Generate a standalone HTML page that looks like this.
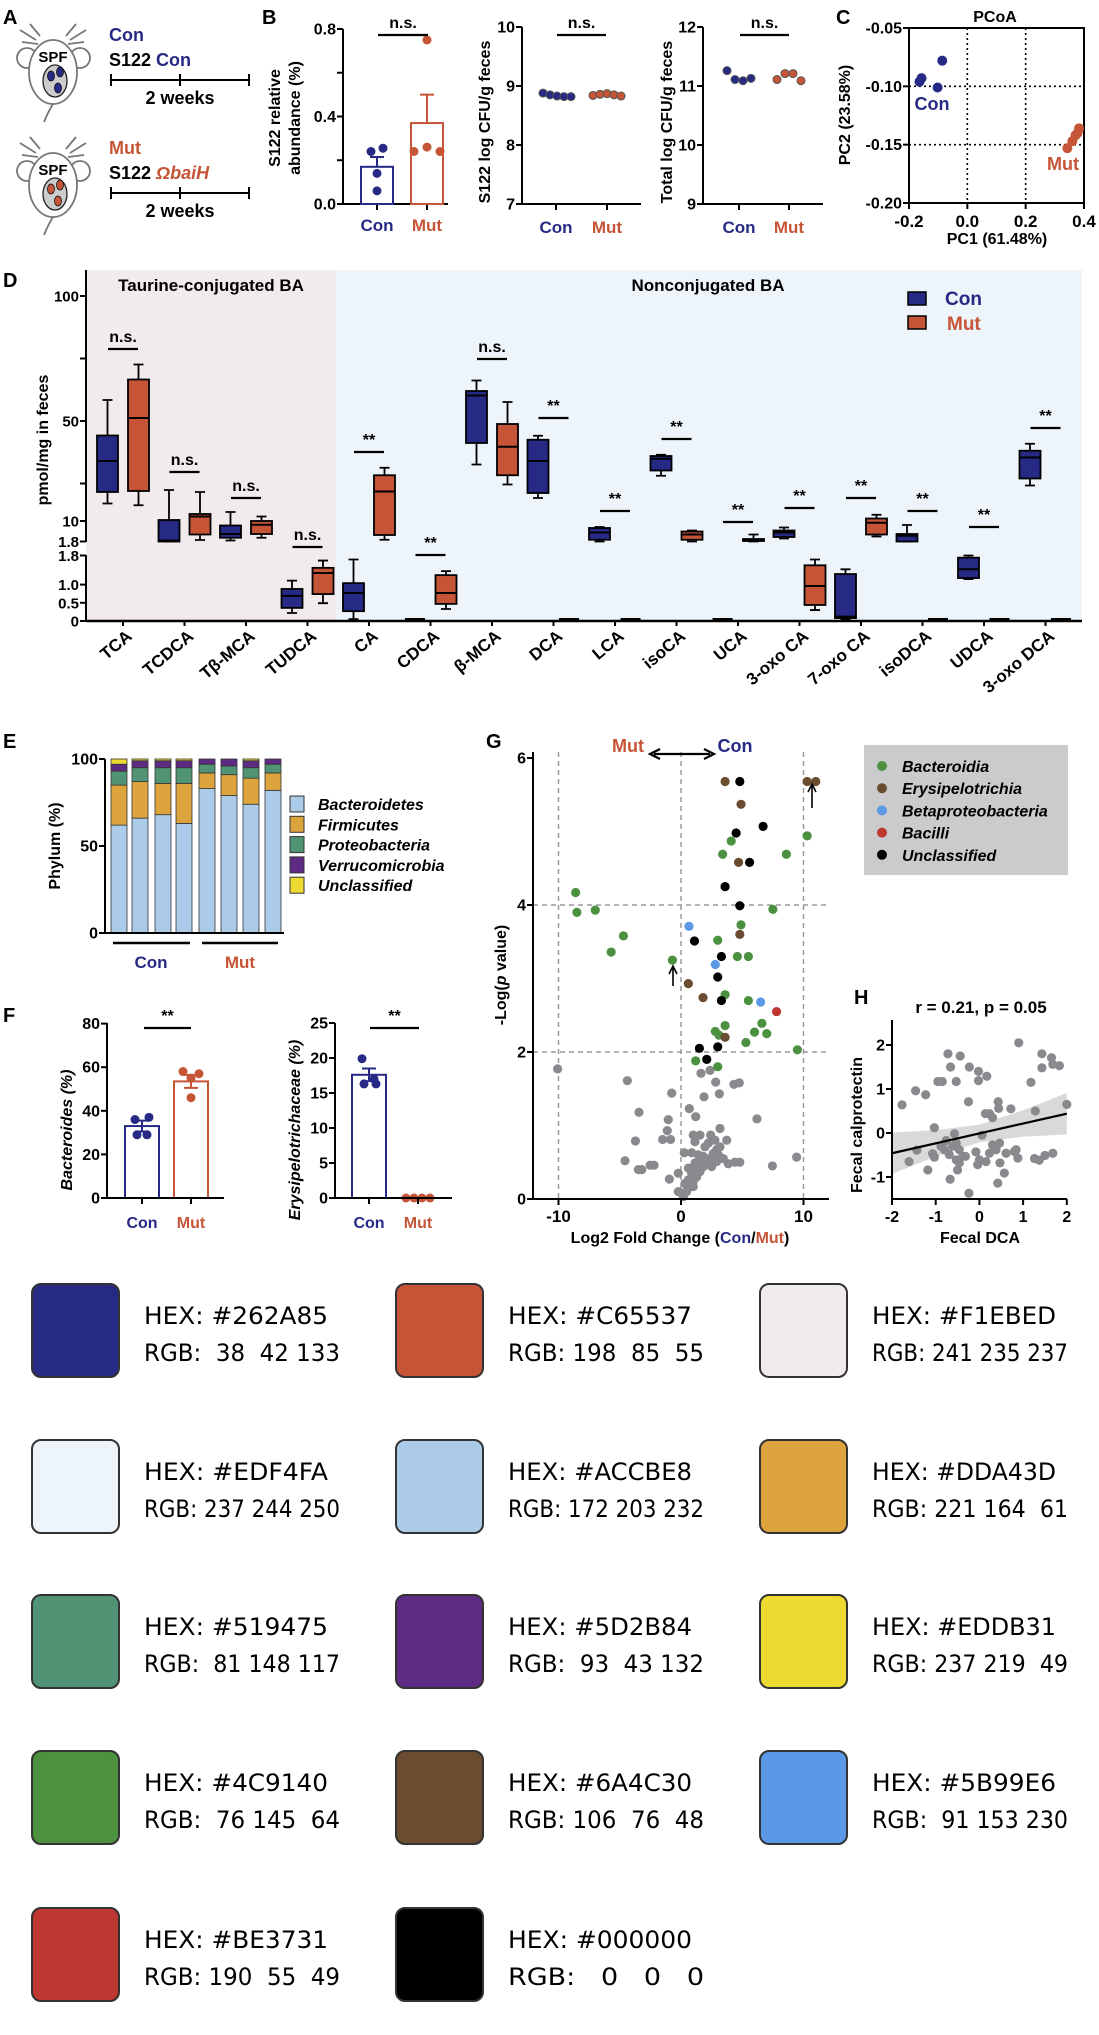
<!DOCTYPE html>
<html><head><meta charset="utf-8">
<style>
html,body{margin:0;padding:0;background:#fff;}
svg{display:block;font-family:"Liberation Sans",sans-serif;}
.b{font-weight:bold;}
.sw{font-family:"DejaVu Sans","Liberation Sans",sans-serif;white-space:pre;}
</style></head>
<body>
<svg id="fig" xmlns="http://www.w3.org/2000/svg" width="1099" height="2035" viewBox="0 0 1099 2035">
<rect x="0" y="0" width="1099" height="2035" fill="#fff"/>
<!-- Panel labels -->
<g class="b" font-size="20">
<text x="3" y="24">A</text>
<text x="262" y="24">B</text>
<text x="836" y="24">C</text>
<text x="3" y="287">D</text>
<text x="3" y="748">E</text>
<text x="3" y="1022">F</text>
<text x="486" y="748">G</text>
<text x="854" y="1004">H</text>
</g>
<!-- Panel A -->
<g id="panelA">
<g id="mouse1" fill="none" stroke="#777" stroke-width="1.8">
 <path d="M36 40 L20 30 M38 44 L22 42 M70 40 L86 30 M68 44 L84 42 M40 36 L30 24 M66 36 L76 24"/>
 <circle cx="27" cy="58" r="10" fill="#fff"/><circle cx="80" cy="58" r="10" fill="#fff"/>
 <ellipse cx="53" cy="72" rx="24" ry="32" fill="#fff"/>
 <path d="M53 104 Q48 112 44 122"/>
 <ellipse cx="55" cy="81" rx="12" ry="16" fill="#ccc" stroke="#222" stroke-width="1.3"/>
 <ellipse cx="51" cy="76" rx="3.5" ry="5" fill="#262A85" stroke="#111" stroke-width="0.8"/>
 <ellipse cx="60" cy="72" rx="3.5" ry="5" fill="#262A85" stroke="#111" stroke-width="0.8"/>
 <ellipse cx="58" cy="88" rx="3.5" ry="5" fill="#262A85" stroke="#111" stroke-width="0.8"/>
</g>
<text x="53" y="62" text-anchor="middle" class="b" font-size="15">SPF</text>
<g id="mouse2" fill="none" stroke="#777" stroke-width="1.8" transform="translate(0,113)">
 <path d="M36 40 L20 30 M38 44 L22 42 M70 40 L86 30 M68 44 L84 42 M40 36 L30 24 M66 36 L76 24"/>
 <circle cx="27" cy="58" r="10" fill="#fff"/><circle cx="80" cy="58" r="10" fill="#fff"/>
 <ellipse cx="53" cy="72" rx="24" ry="32" fill="#fff"/>
 <path d="M53 104 Q48 112 44 122"/>
 <ellipse cx="55" cy="81" rx="12" ry="16" fill="#ccc" stroke="#222" stroke-width="1.3"/>
 <ellipse cx="51" cy="76" rx="3.5" ry="5" fill="#C65537" stroke="#111" stroke-width="0.8"/>
 <ellipse cx="60" cy="72" rx="3.5" ry="5" fill="#C65537" stroke="#111" stroke-width="0.8"/>
 <ellipse cx="58" cy="88" rx="3.5" ry="5" fill="#C65537" stroke="#111" stroke-width="0.8"/>
</g>
<text x="53" y="175" text-anchor="middle" class="b" font-size="15">SPF</text>
<g class="b" font-size="18">
<text x="109" y="41" fill="#262A85">Con</text>
<text x="109" y="66">S122 <tspan fill="#262A85">Con</tspan></text>
<text x="180" y="104" text-anchor="middle">2 weeks</text>
<text x="109" y="154" fill="#C65537">Mut</text>
<text x="109" y="179">S122 <tspan fill="#C65537" font-style="italic">ΩbaiH</tspan></text>
<text x="180" y="217" text-anchor="middle">2 weeks</text>
</g>
<path d="M111 80 H249 M111 74 V86 M180 74 V86 M249 74 V86" stroke="#000" stroke-width="2"/>
<path d="M111 193 H249 M111 187 V199 M180 187 V199 M249 187 V199" stroke="#000" stroke-width="2"/>
</g>
<!-- static axis titles -->
<g class="b" font-size="16">
<text transform="translate(280,118) rotate(-90)" text-anchor="middle">S122 relative</text>
<text transform="translate(300,118) rotate(-90)" text-anchor="middle">abundance (%)</text>
<text transform="translate(490,122) rotate(-90)" text-anchor="middle">S122 log CFU/g feces</text>
<text transform="translate(672,122) rotate(-90)" text-anchor="middle">Total log CFU/g feces</text>
<text transform="translate(850,115) rotate(-90)" text-anchor="middle">PC2 (23.58%)</text>
<text x="997" y="244" text-anchor="middle">PC1 (61.48%)</text>
<text x="995" y="22" text-anchor="middle">PCoA</text>
<text transform="translate(48,440) rotate(-90)" text-anchor="middle">pmol/mg in feces</text>
<text transform="translate(60,846) rotate(-90)" text-anchor="middle">Phylum (%)</text>
<text transform="translate(72,1130) rotate(-90)" text-anchor="middle" font-style="italic">Bacteroides (%)</text>
<text transform="translate(300,1130) rotate(-90)" text-anchor="middle" font-style="italic">Erysipelotrichaceae (%)</text>
<text transform="translate(506,975) rotate(-90)" text-anchor="middle">-Log(<tspan font-style="italic">p</tspan> value)</text>
<text x="680" y="1243" text-anchor="middle">Log2 Fold Change (<tspan fill="#262A85">Con</tspan>/<tspan fill="#C65537">Mut</tspan>)</text>
<text transform="translate(862,1125) rotate(-90)" text-anchor="middle">Fecal calprotectin</text>
<text x="980" y="1243" text-anchor="middle">Fecal DCA</text>
<text x="981" y="1013" text-anchor="middle" font-size="17">r = 0.21, p = 0.05</text>
</g>
<g id="layer"></g>
</svg>
<script>
// ---------- DATA ----------
// Panel B
const b1ConDots=[0.24,0.255,0.14,0.06];
const b1MutDots=[0.75,0.24,0.26,0.24];
const b1Mean=[0.17,0.37];
const b1Sem=[0.045,0.13];
const b2ConDots=[8.88,8.85,8.83,8.82,8.82];
const b2MutDots=[8.84,8.86,8.87,8.85,8.83];
const b3ConDots=[11.26,11.11,11.09,11.13];
const b3MutDots=[11.11,11.21,11.21,11.09];
// Panel C
const pcoaConX=[-0.157,-0.164,-0.086,-0.102];
const pcoaConY=[-0.093,-0.096,-0.078,-0.101];
const pcoaMutX=[0.343,0.36,0.371,0.383,0.378];
const pcoaMutY=[-0.153,-0.147,-0.142,-0.136,-0.140];
// Panel D: [min,q1,median,q3,max]; seg U=upper axis, L=lower axis, Z=zero
const baNames=["TCA","TCDCA","Tβ-MCA","TUDCA","CA","CDCA","β-MCA","DCA","LCA","isoCA","UCA","3-oxo CA","7-oxo CA","isoDCA","UDCA","3-oxo DCA"];
const conBox=[[17,21.6,34,44.2,58.4],[1.8,1.8,2.2,10.4,22.4],[2.2,3.3,4.8,8.2,13.6],[0.22,0.36,0.69,0.88,1.11],[0.05,0.27,0.77,1.04,1.69],[0,0,0,0,0],[32.6,41.2,60.2,62,66.2],[19.2,21.2,34,42.5,44.1],[1.8,2.5,5.4,7.2,7.6],[28.1,30.2,34.9,36,36.5],[0,0,0,0,0],[3,3.6,5.4,6.2,7.4],[0.05,0.08,0.12,1.29,1.42],[1.8,1.8,4.1,4.8,8.4],[1.15,1.18,1.42,1.74,1.8],[24.2,27,35.4,38.1,40.9]];
const conSeg=["U","U","U","L","L","Z","U","U","U","U","Z","U","L","U","L","U"];
const mutBox=[[16.3,22,51.2,66.6,72.6],[2.4,4.6,11.8,12.8,21.6],[3.3,4.8,8.5,10,11.8],[0.49,0.74,1.32,1.46,1.66],[2.5,4.4,21.8,28.3,31.3],[0.33,0.47,0.77,1.26,1.37],[24.6,28.3,39.7,48.8,57.6],[0,0,0,0,0],[0,0,0,0,0],[1.8,2.5,4.6,5.8,6.2],[1.8,2,2.5,2.8,4.6],[0.3,0.44,0.96,1.53,1.69],[3.8,4.6,9.3,11,12.5],[0,0,0,0,0],[0,0,0,0,0],[0,0,0,0,0]];
const mutSeg=["U","U","U","L","U","L","U","Z","Z","U","U","L","U","Z","Z","Z"];
const sigText=["n.s.","n.s.","n.s.","n.s.","**","**","n.s.","**","**","**","**","**","**","**","**","**"];
const sigY=[349,472,498,547,452,555,359,418,511,439,522,508,498,511,527,428];
// Panel E (cumulative tops per bar: Bacteroidetes, Firmicutes, Proteobacteria, Verrucomicrobia, Unclassified)
const phylumNames=["Bacteroidetes","Firmicutes","Proteobacteria","Verrucomicrobia","Unclassified"];
const bacteroidetes=[62,66,68,63,83,79,74,82];
const firmicutes=[23,21,18,23,9,12,15,10];
const proteobacteria=[8,8,9,9,5,5,6,5];
const verrucomicrobia=[4,4,4,4,3,4,4,3];
const unclassifiedPh=[3,1,1,1,0,0,1,0];
// Panel F
const f1Mean=[33,53.5];
const f1Sem=[2.5,3];
const f1ConDots=[36,37,29,29];
const f1MutDots=[58,55,57,46];
const f2Mean=[17.6,0];
const f2Sem=[0.9,0];
const f2ConDots=[19.9,16.3,16.3,17];
const f2MutDots=[0,0,0,0];
// Panel G
const gGreenX=[-8.6,-8.5,-7.0,-4.7,-5.7,-0.7,4.1,3.4,10.3,8.6,7.5,4.9,3.0,4.6,5.5,3.6,5.5,3.6,2.8,6.0,6.6,7.0,5.3,9.5,1.2,3.0,3.1];
const gGreenY=[4.17,3.9,3.93,3.58,3.36,3.25,4.87,4.69,4.94,4.69,3.94,3.73,3.52,3.3,3.3,2.78,2.7,2.36,2.28,2.27,2.39,2.25,2.13,2.03,1.88,1.8,2.23];
const gBrownX=[3.6,10.3,11.0,4.9,4.7,4.8,0.6,1.8,3.6];
const gBrownY=[5.68,5.68,5.68,5.37,4.58,3.6,2.93,2.74,2.2];
const gBlueX=[0.65,2.8,6.5];
const gBlueY=[3.71,3.19,2.68];
const gRedX=[7.8];
const gRedY=[2.55];
const gBlackX=[4.8,6.7,4.5,5.6,3.6,4.8,1.1,3.3,3.0,3.3,1.5,3.0,2.1];
const gBlackY=[5.68,5.07,4.98,4.58,4.25,3.99,3.51,3.3,3.02,2.7,2.05,2.07,1.9];
const gGrayX=[-10.07,-4.38,-0.76,1.63,2.37,2.83,4.32,4.76,1.88,3.13,-3.43,0.68,1.2,-1.04,6.2,3.18,-1.12,-1.5,-0.85,-3.72,1.0,1.55,2.42,3.73,1.14,0.27,0.87,-4.57,-3.48,-3.2,-2.52,-2.2,9.44,7.46,4.8,4.4,3.86,-0.95,-0.22,0.46,0.73,1.0,1.28,1.55,1.82,2.09,2.36,2.64,2.91,3.18,1.96,2.23,2.77,3.04,3.45,1.28,0.87,0.6,1.82,2.5,2.91,1.55,1.14,0.6,1.0,0.32,0.05,-0.22,0.19,1.41];
const gGrayY=[1.77,1.61,1.44,1.71,1.75,1.59,1.56,1.58,1.39,1.43,1.18,1.23,1.12,1.08,1.09,0.96,0.93,0.81,0.81,0.79,0.87,0.87,0.87,0.8,0.78,0.63,0.63,0.52,0.4,0.4,0.46,0.46,0.57,0.45,0.5,0.5,0.48,0.27,0.35,0.1,0.17,0.24,0.3,0.37,0.44,0.49,0.55,0.62,0.67,0.71,0.71,0.76,0.8,0.6,0.55,0.42,0.35,0.26,0.58,0.44,0.51,0.53,0.49,0.42,0.17,0.21,0.08,0.1,0.03,0.6];
const gLegend=["Bacteroidia","Erysipelotrichia","Betaproteobacteria","Bacilli","Unclassified"];
// Panel H
const hX=[0.9,-0.72,-0.44,-0.66,-0.23,-0.02,0.17,-0.02,-0.53,-0.95,-0.85,-1.46,-1.23,-1.77,-0.25,0.43,0.44,0.14,0.23,0.3,0.72,1.28,1.18,1.43,1.65,1.43,1.68,1.83,2.0,-1.03,-0.57,-0.76,0.06,-1.43,-1.61,-1.18,-1.07,-1.03,-0.88,-0.8,-0.69,-0.61,-0.53,-0.46,-0.38,-0.53,-0.46,-0.5,-0.67,-0.32,-0.24,-0.08,0,-0.04,0.15,0.23,0.3,0.38,0.46,0.47,0.57,0.42,0.61,0.8,0.88,0.84,1.26,1.37,1.5,1.68];
const hY=[2.05,1.8,1.75,1.5,1.5,1.4,1.29,1.19,1.17,1.17,1.17,0.96,0.87,0.64,0.71,0.71,0.56,0.44,0.44,0.35,0.55,0.5,1.15,1.8,1.71,1.48,1.56,1.53,0.65,0.12,-0.02,-0.17,-0.05,-0.39,-0.65,-0.84,-0.47,-0.55,-0.3,-0.38,-0.49,-0.3,-0.23,-0.38,-0.53,-0.61,-0.68,-0.84,-1.05,-0.53,-1.37,-0.43,-0.61,-0.72,-0.65,-0.46,-0.27,-0.38,-0.23,-0.68,-0.91,-1.14,-0.46,-0.42,-0.57,-0.38,-0.58,-0.62,-0.51,-0.46];
const hFitSlope=0.225;
const hFitIntercept=-0.01;
// Swatches
const swHex=["#262A85","#C65537","#F1EBED","#EDF4FA","#ACCBE8","#DDA43D","#519475","#5D2B84","#EDDB31","#4C9140","#6A4C30","#5B99E6","#BE3731","#000000"];
const swRgb=["RGB:  38  42 133","RGB: 198  85  55","RGB: 241 235 237","RGB: 237 244 250","RGB: 172 203 232","RGB: 221 164  61","RGB:  81 148 117","RGB:  93  43 132","RGB: 237 219  49","RGB:  76 145  64","RGB: 106  76  48","RGB:  91 153 230","RGB: 190  55  49","RGB:   0   0   0"];

// ---------- DRAW ----------
const NS='http://www.w3.org/2000/svg';
const root=document.getElementById('layer');
const CON='#262A85', MUT='#C65537';
function el(tag,attrs,parent){const e=document.createElementNS(NS,tag);for(const k in attrs)e.setAttribute(k,attrs[k]);(parent||root).appendChild(e);return e;}
function txt(x,y,s,attrs){const e=el('text',Object.assign({x:x,y:y},attrs||{}));e.textContent=s;return e;}
function line(x1,y1,x2,y2,w,c){return el('line',{x1:x1,y1:y1,x2:x2,y2:y2,stroke:c||'#000','stroke-width':w||2});}

function yAxis(x,y0,y1,ticks,fy,labels,fs){
  let e=line(x,y0,x,y1,2);
  
  
  ticks.forEach((t,i)=>{const y=fy(t);
    let tk=line(x-6,y,x,y,2);
    
    
    if(labels[i]!==''){let l=txt(x-7,y+5.5,labels[i],{'text-anchor':'end','font-size':fs||16,'font-weight':'bold'});
    
    }
  });
}
function xAxis(y,x0,x1,ticks,labels,colors,fs,ly){
  let e=line(x0,y,x1,y,2);
  
  
  ticks.forEach((x,i)=>{let tk=line(x,y,x,y+6,2);
    
    
    let l=txt(x,ly||y+24,labels[i],{'text-anchor':'middle','font-size':fs||17,'font-weight':'bold',fill:colors?colors[i]:'#000'});
    
    
  });
}
function dot(x,y,r,c,stroke){return el('circle',{cx:x,cy:y,r:r,fill:c,stroke:stroke||'none','stroke-width':1});}
function sig(x0,x1,y,s){let b=line(x0,y,x1,y,2.2);
  
  
  let t=txt((x0+x1)/2,y-7,s,{'text-anchor':'middle','font-size':16,'font-weight':'bold'});
  
  }

// Panel B1
const b1y=v=>204-v/0.8*175;
yAxis(343,29,204,[0,0.2,0.4,0.6,0.8],b1y,['0.0','','0.4','','0.8']);
xAxis(204,343,448,[377,427],['Con','Mut'],[CON,MUT],17,231);
[0,1].forEach(i=>{const cx=[377,427][i],c=[CON,MUT][i];
  let r=el('rect',{x:cx-16,y:b1y(b1Mean[i]),width:32,height:204-b1y(b1Mean[i]),fill:'none',stroke:c,'stroke-width':2});
  
  
  let s=el('path',{d:`M${cx} ${b1y(b1Mean[i])} V${b1y(b1Mean[i]+b1Sem[i])} M${cx-7} ${b1y(b1Mean[i]+b1Sem[i])} H${cx+7}`,stroke:c,'stroke-width':2,fill:'none'});
  
  
});
const jit4=[-6,6,0,0];
b1ConDots.forEach((v,i)=>{let d=dot(377+[-6,6,0,0][i],b1y(v),4.5,CON);
  
  });
b1MutDots.forEach((v,i)=>{let d=dot(427+[0,-13,0,13][i],b1y(v),4.5,MUT);
  
  });
sig(378,428,35,'n.s.');
// B2
const b2y=v=>204-(v-7)/3*177;
yAxis(522,27,204,[7,8,9,10],b2y,['7','8','9','10']);
xAxis(204,522,641,[556,607],['Con','Mut'],[CON,MUT],17,233);
b2ConDots.forEach((v,i)=>{let d=dot(543+i*7,b2y(v),4,CON,'#555');
  
  });
b2MutDots.forEach((v,i)=>{let d=dot(593+i*7,b2y(v),4,MUT,'#555');
  
  });
sig(557,606,35,'n.s.');
// B3
const b3y=v=>204-(v-9)/3*177;
yAxis(703,27,204,[9,10,11,12],b3y,['9','10','11','12']);
xAxis(204,703,823,[739,789],['Con','Mut'],[CON,MUT],17,233);
b3ConDots.forEach((v,i)=>{let d=dot(727+i*8,b3y(v),4,CON,'#555');
  
  });
b3MutDots.forEach((v,i)=>{let d=dot(777+i*8,b3y(v),4,MUT,'#555');
  
  });
sig(740,789,35,'n.s.');

// Panel C
const cx_=v=>909+(v+0.2)/0.6*175, cy_=v=>28+(-0.05-v)/0.15*175;
let cbox=el('rect',{x:909,y:28,width:175,height:175,fill:'none',stroke:'#000','stroke-width':2});


let cdot=el('path',{d:`M${cx_(0)} 28 V203 M${cx_(0.2)} 28 V203 M909 ${cy_(-0.1)} H1084 M909 ${cy_(-0.15)} H1084`,stroke:'#000','stroke-width':1.6,'stroke-dasharray':'2 3',fill:'none'});


yAxis(909,28,203,[-0.05,-0.1,-0.15,-0.2],cy_,['-0.05','-0.10','-0.15','-0.20']);
xAxis(203,909,1084,[-0.2,0,0.2,0.4].map(cx_),['-0.2','0.0','0.2','0.4'],null,17,227);
pcoaConX.forEach((v,i)=>{let d=dot(cx_(v),cy_(pcoaConY[i]),5,CON);
  
  });
pcoaMutX.forEach((v,i)=>{let d=dot(cx_(v),cy_(pcoaMutY[i]),5,MUT);
  
  });
let cl1=txt(932,110,'Con',{'font-size':18,'font-weight':'bold',fill:CON,'text-anchor':'middle'});


let cl2=txt(1063,170,'Mut',{'font-size':18,'font-weight':'bold',fill:MUT,'text-anchor':'middle'});



// Panel D
let pk=el('rect',{x:86,y:270,width:250,height:351,fill:'#F1EBED'});


let bl=el('rect',{x:336,y:270,width:746,height:351,fill:'#EDF4FA'});


let t1=txt(211,291,'Taurine-conjugated BA',{'text-anchor':'middle','font-size':17,'font-weight':'bold'});


let t2=txt(708,291,'Nonconjugated BA',{'text-anchor':'middle','font-size':17,'font-weight':'bold'});


const yU=v=>546-2.5*v, yL=v=>621-36.4*v;
function yD(v,seg){return seg==='U'?yU(Math.max(v,1.8)):seg==='L'?yL(Math.min(v,1.8)):621;}
yAxis(86,270,542,[100,75,50,25,10,1.8],yU,['100','','50','','10','1.8'],15);
yAxis(86,555,621,[1.8,1.0,0.5,0],yL,['1.8','1.0','0.5','0'],15);
let xa=line(86,621,1082,621,2.5);


const gx=i=>123+61.5*i;
function boxplot(cx,q,seg,c){
  if(seg==='Z'){let z=el('rect',{x:cx-10,y:618,width:20,height:4,fill:'#000'});
    
    return;}
  const y=q.map(v=>yD(v,seg));
  let w=el('path',{d:`M${cx} ${y[0]} V${y[1]} M${cx} ${y[3]} V${y[4]} M${cx-5} ${y[0]} H${cx+5} M${cx-5} ${y[4]} H${cx+5}`,stroke:'#000','stroke-width':1.8,fill:'none'});
  
  
  let r=el('rect',{x:cx-10.5,y:y[3],width:21,height:Math.max(y[1]-y[3],1),fill:c,stroke:'#000','stroke-width':1.8});
  
  
  let m=line(cx-10.5,y[2],cx+10.5,y[2],2);
  
  
}
baNames.forEach((n,i)=>{
  boxplot(gx(i)-15.5,conBox[i],conSeg[i],CON);
  boxplot(gx(i)+15.5,mutBox[i],mutSeg[i],MUT);
  sig(gx(i)-15,gx(i)+15,sigY[i],sigText[i]);
  let tk=line(gx(i),621,gx(i),626,2);
  
  
  let l=txt(gx(i)+10,638,n,{'text-anchor':'end','font-size':17,'font-weight':'bold',transform:`rotate(-40 ${gx(i)+10} 638)`});
  
  
});
let lg1=el('rect',{x:908,y:292,width:18,height:13,fill:CON,stroke:'#000','stroke-width':1.5});


let lg2=el('rect',{x:908,y:316,width:18,height:13,fill:MUT,stroke:'#000','stroke-width':1.5});


let lt1=txt(945,305,'Con',{'font-size':19,'font-weight':'bold',fill:CON});


let lt2=txt(947,330,'Mut',{'font-size':19,'font-weight':'bold',fill:MUT});



// Panel E
const ey=v=>933-v*1.74;
const phColors=['#ACCBE8','#DDA43D','#519475','#5D2B84','#EDDB31'];
const phSeries=[bacteroidetes,firmicutes,proteobacteria,verrucomicrobia,unclassifiedPh];
const ebx=[119,140,163,184,207,229,251,273];
ebx.forEach((x,i)=>{let base=0;
  phSeries.forEach((s,k)=>{const v=s[i];if(v<=0)return;
    let r=el('rect',{x:x-8,y:ey(base+v),width:16,height:v*1.74,fill:phColors[k],stroke:'#333','stroke-width':0.8});
    
    
    base+=v;});
});
yAxis(105,759,933,[0,50,100],ey,['0','50','100']);
let exa=line(105,933,284,933,2);


let eu1=line(113,943,190,943,2.5);


let eu2=line(202,943,278,943,2.5);


let ec=txt(151,968,'Con',{'text-anchor':'middle','font-size':17,'font-weight':'bold',fill:CON});


let em=txt(240,968,'Mut',{'text-anchor':'middle','font-size':17,'font-weight':'bold',fill:MUT});


phylumNames.forEach((n,k)=>{const y=804+k*20.3;
  let r=el('rect',{x:290,y:y-8,width:14,height:16,fill:phColors[k],stroke:'#333','stroke-width':1});
  
  
  let t=txt(318,y+6,n,{'font-size':16,'font-weight':'bold','font-style':'italic'});
  
  
});

// Panel F
const f1y=v=>1198-2.18*v, f2y=v=>1198-7*v;
function barPanel(xs,fy,mean,sem,conD,mutD,name){
  [0,1].forEach(i=>{const c=[CON,MUT][i],x=xs[i];
    if(mean[i]>0){
    let r=el('rect',{x:x-17,y:fy(mean[i]),width:34,height:1198-fy(mean[i]),fill:'none',stroke:c,'stroke-width':2});
    
    
    let s=el('path',{d:`M${x} ${fy(mean[i]-sem[i])} V${fy(mean[i]+sem[i])} M${x-7} ${fy(mean[i]+sem[i])} H${x+7} M${x-7} ${fy(mean[i]-sem[i])} H${x+7}`,stroke:c,'stroke-width':2,fill:'none'});
    
    }
  });
  conD.forEach((v,i)=>{let d=dot(xs[0]+[-7,7,-5,5][i],fy(v),4.5,CON);
    
    });
  mutD.forEach((v,i)=>{let d=dot(xs[1]+(mean[1]>0?[-8,0,8,0][i]:[-12,-4,4,12][i]),fy(v),4.5,MUT);
    
    });
}
barPanel([142,191],f1y,f1Mean,f1Sem,f1ConDots,f1MutDots,'f1');
yAxis(107,1023,1198,[0,20,40,60,80],f1y,['0','20','40','60','80']);
xAxis(1198,107,224,[142,191],['Con','Mut'],[CON,MUT],16,1228);
sig(144,191,1028,'**');
barPanel([369,418],f2y,f2Mean,f2Sem,f2ConDots,f2MutDots,'f2');
yAxis(335,1023,1198,[0,5,10,15,20,25],f2y,['0','5','10','15','20','25']);
xAxis(1198,335,452,[369,418],['Con','Mut'],[CON,MUT],16,1228);
sig(370,419,1028,'**');

// Panel G
const gx_=v=>681+12.25*v, gy_=v=>1199-73.5*v;
let gref=el('path',{d:`M${gx_(-10)} 752 V1199 M${gx_(0)} 752 V1199 M${gx_(10)} 752 V1199 M533 ${gy_(2)} H829 M533 ${gy_(4)} H829`,stroke:'#999','stroke-width':1.5,'stroke-dasharray':'5 4',fill:'none'});


function gpts(X,Y,c,name){X.forEach((v,i)=>{let d=dot(gx_(v),gy_(Y[i]),4.6,c);
  
  });}
gpts(gGrayX,gGrayY,'#8a8a8e','volcano-point-ns');
gpts(gGreenX,gGreenY,'#4C9140','volcano-point-bacteroidia');
gpts(gBrownX,gBrownY,'#6A4C30','volcano-point-erysipelotrichia');
gpts(gBlueX,gBlueY,'#5B99E6','volcano-point-betaproteobacteria');
gpts(gRedX,gRedY,'#BE3731','volcano-point-bacilli');
gpts(gBlackX,gBlackY,'#000','volcano-point-unclassified');
yAxis(533,752,1199,[0,2,4,6],gy_,['0','2','4','6']);
xAxis(1199,533,829,[-10,0,10].map(gx_),['-10','0','10'],null,17,1222);
let ga=el('path',{d:'M812 808 V786 M808 792 L812 784 L816 792 M673 986 V968 M669 974 L673 966 L677 974',stroke:'#000','stroke-width':1.6,fill:'none'});


let gm=txt(628,752,'Mut',{'text-anchor':'middle','font-size':18,'font-weight':'bold',fill:MUT});


let gc=txt(735,752,'Con',{'text-anchor':'middle','font-size':18,'font-weight':'bold',fill:CON});


let gar=el('path',{d:'M654 754 H710 M660 749 L650 754 L660 759 M704 749 L714 754 L704 759',stroke:'#000','stroke-width':2.2,fill:'none'});


let glb=el('rect',{x:864,y:745,width:204,height:130,fill:'#cbcbcd'});


const gLegCol=['#4C9140','#6A4C30','#5B99E6','#BE3731','#000'];
gLegend.forEach((n,k)=>{const y=766+k*22.2;
  let d=dot(882,y,5,gLegCol[k]);
  
  
  let t=txt(902,y+6,n,{'font-size':16,'font-weight':'bold','font-style':'italic'});
  
  
});

// Panel H
const hx_=v=>979.4+43.7*v, hy_=v=>1133-44*v;
const bandX=[-2,-1,0,1,2], bandHW=[0.47,0.3,0.2,0.3,0.47];
let up=bandX.map((x,i)=>`${hx_(x)},${hy_(hFitSlope*x+hFitIntercept+bandHW[i])}`);
let lo=bandX.map((x,i)=>`${hx_(x)},${hy_(hFitSlope*x+hFitIntercept-bandHW[i])}`).reverse();
let band=el('polygon',{points:up.concat(lo).join(' '),fill:'#d9d9d9'});


hX.forEach((v,i)=>{let d=dot(hx_(v),hy_(hY[i]),4.6,'#8a8a8e');
  
  });
let fit=line(hx_(-2),hy_(hFitSlope*-2+hFitIntercept),hx_(2),hy_(hFitSlope*2+hFitIntercept),2.2);


yAxis(892,1020,1199,[-1,0,1,2],hy_,['-1','0','1','2']);
xAxis(1199,892,1067,[-2,-1,0,1,2].map(hx_),['-2','-1','0','1','2'],null,16,1222);

// Swatches
swHex.forEach((h,i)=>{const col=i%3,row=Math.floor(i/3);
  const x=[32,396,760][col], y=[1284,1440,1595,1751,1908][row];
  let r=el('rect',{x:x,y:y,width:87,height:93,rx:9,fill:h,stroke:'#333','stroke-width':2});
  
  
  let t1=txt(x+112,y+40,'HEX: '+h,{'font-size':24,'class':'sw',textLength:184,lengthAdjust:'spacingAndGlyphs'});
  
  
  let t2=txt(x+112,y+77,swRgb[i],{'font-size':24,'class':'sw',textLength:196,lengthAdjust:'spacingAndGlyphs'});
  
  
});
</script>
</body></html>
